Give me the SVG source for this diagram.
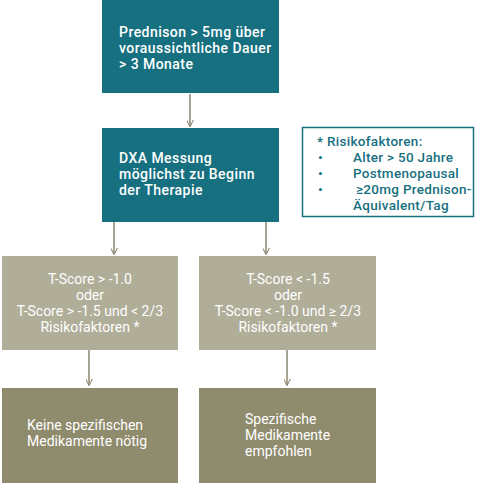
<svg xmlns="http://www.w3.org/2000/svg" width="480" height="483" viewBox="0 0 480 483">
<defs>
<style>
text{font-family:Roboto,"Liberation Sans",sans-serif;font-size:14px;font-weight:400;fill:#ffffff}
.teal{fill:#17707f}
.tt{font-size:14px;font-weight:500;letter-spacing:0.45px}
.light{fill:#b0ad98}
.dark{fill:#8f8b6d}
.risk text{fill:#17707f;font-weight:500;font-size:13.5px;letter-spacing:0.3px}
.c{text-anchor:middle}
.conn line{stroke:#8b8670;stroke-width:1.5;fill:none}
</style>
<marker id="ah" viewBox="0 0 10 10" refX="9" refY="5" markerWidth="7" markerHeight="7" markerUnits="userSpaceOnUse" orient="auto">
<path d="M0,0 L10,5 L0,10" fill="none" stroke="#8b8670" stroke-width="1.5"/>
</marker>
</defs>
<rect width="480" height="483" fill="#ffffff"/>
<g id="n1">
<rect class="teal" x="102" y="0" width="177" height="93"/>
<text class="tt" x="119" y="37">Prednison &gt; 5mg über</text>
<text class="tt" x="119" y="53">voraussichtliche Dauer</text>
<text class="tt" x="119" y="69">&gt; 3 Monate</text>
</g>
<g id="n2">
<rect class="teal" x="102" y="128" width="177" height="94"/>
<text class="tt" x="119" y="163">DXA Messung</text>
<text class="tt" x="119" y="179">möglichst zu Beginn</text>
<text class="tt" x="119" y="195">der Therapie</text>
</g>
<g id="risk" class="risk">
<rect x="302.5" y="127.5" width="171" height="89" fill="#ffffff" stroke="#17707f" stroke-width="1.5"/>
<text x="317" y="146">* Risikofaktoren:</text>
<text x="318" y="162">•</text><text x="353" y="162">Alter &gt; 50 Jahre</text>
<text x="318" y="178">•</text><text x="353" y="178">Postmenopausal</text>
<text x="318" y="194">•</text><text x="356" y="194">≥20mg Prednison-</text>
<text x="353" y="210">Äquivalent/Tag</text>
</g>
<g id="n3">
<rect class="light" x="2" y="256" width="176" height="94"/>
<text class="c" x="90" y="284">T-Score &gt; -1.0</text>
<text class="c" x="90" y="300">oder</text>
<text class="c" x="90" y="316">T-Score &gt; -1.5 und &lt; 2/3</text>
<text class="c" x="90" y="332">Risikofaktoren *</text>
</g>
<g id="n4">
<rect class="light" x="199" y="256" width="177" height="94"/>
<text class="c" x="288" y="284">T-Score &lt; -1.5</text>
<text class="c" x="288" y="300">oder</text>
<text class="c" x="288" y="316">T-Score &lt; -1.0 und ≥ 2/3</text>
<text class="c" x="288" y="332">Risikofaktoren *</text>
</g>
<g id="n5">
<rect class="dark" x="2" y="388" width="176" height="95"/>
<text x="27" y="430">Keine spezifischen</text>
<text x="27" y="446">Medikamente nötig</text>
</g>
<g id="n6">
<rect class="dark" x="199" y="388" width="177" height="95"/>
<text x="245" y="424">Spezifische</text>
<text x="245" y="440">Medikamente</text>
<text x="245" y="456">empfohlen</text>
</g>
<g id="connectors" class="conn">
<line x1="190" y1="94" x2="190" y2="126" marker-end="url(#ah)"/>
<line x1="114" y1="222" x2="114" y2="254" marker-end="url(#ah)"/>
<line x1="266" y1="222" x2="266" y2="254" marker-end="url(#ah)"/>
<line x1="89" y1="350" x2="89" y2="385" marker-end="url(#ah)"/>
<line x1="287" y1="350" x2="287" y2="385" marker-end="url(#ah)"/>
</g>
</svg>
